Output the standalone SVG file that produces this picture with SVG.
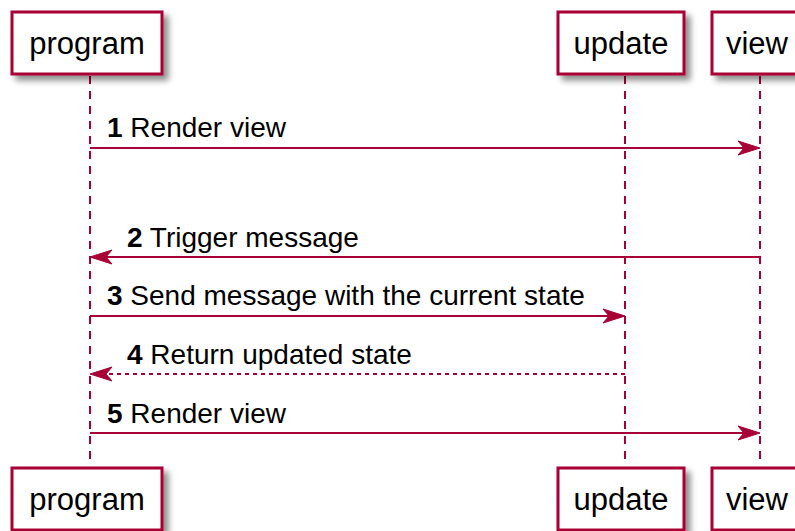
<svg xmlns="http://www.w3.org/2000/svg" width="795" height="531" viewBox="0 0 795 531">
<style>
.box{fill:#FFFFFF;stroke:#A80036;stroke-width:3;filter:url(#sh)}
.pt{font-family:"Liberation Sans",Arial,sans-serif;font-size:31px;fill:#000;text-anchor:middle}
.life{stroke:#A80036;stroke-width:2;stroke-dasharray:8,7;fill:none}
.msg{stroke:#A80036;stroke-width:2;fill:none}
.ret{stroke:#A80036;stroke-width:2;fill:none;stroke-dasharray:4,4}
.lbl{font-family:"Liberation Sans",Arial,sans-serif;font-size:28px;fill:#000}
.num{font-weight:bold}
.head{fill:#A80036;stroke:#A80036;stroke-width:1}
</style>
<defs>
<filter id="sh" x="-20%" y="-20%" width="150%" height="160%">
<feGaussianBlur in="SourceAlpha" stdDeviation="3"/>
<feOffset dx="5" dy="5" result="b"/>
<feComponentTransfer><feFuncA type="linear" slope="0.45"/></feComponentTransfer>
<feMerge><feMergeNode/><feMergeNode in="SourceGraphic"/></feMerge>
</filter>
</defs>
<rect width="795" height="531" fill="#FFFFFF"/>
<g id="lifelines">
<line class="life" x1="90" y1="76" x2="90" y2="466"/>
<line class="life" x1="625" y1="76" x2="625" y2="466"/>
<line class="life" x1="760" y1="76" x2="760" y2="466"/>
</g>
<g id="program-top"><rect class="box" x="12" y="12" width="150" height="62"/><text class="pt" x="87" y="54">program</text></g>
<g id="update-top"><rect class="box" x="558" y="12" width="126" height="62"/><text class="pt" x="621" y="54">update</text></g>
<g id="view-top"><rect class="box" x="712" y="12" width="96" height="62"/><text class="pt" x="757" y="54">view</text></g>
<g id="program-bottom"><rect class="box" x="12" y="468" width="150" height="62"/><text class="pt" x="87" y="510">program</text></g>
<g id="update-bottom"><rect class="box" x="558" y="468" width="126" height="62"/><text class="pt" x="621" y="510">update</text></g>
<g id="view-bottom"><rect class="box" x="712" y="468" width="96" height="62"/><text class="pt" x="757" y="510">view</text></g>
<g id="connectors">
<line class="msg" x1="90" y1="148" x2="756" y2="148"/>
<polygon class="head" points="760,148 738,141 744,148 738,155"/>
<line class="msg" x1="760" y1="257" x2="94" y2="257"/>
<polygon class="head" points="90,257 112,250 106,257 112,264"/>
<line class="msg" x1="90" y1="316" x2="621" y2="316"/>
<polygon class="head" points="625,316 603,309 609,316 603,323"/>
<line class="ret" x1="625" y1="374" x2="96" y2="374"/>
<polygon class="head" points="90,374 112,367 106,374 112,381"/>
<line class="msg" x1="90" y1="433" x2="756" y2="433"/>
<polygon class="head" points="760,433 738,426 744,433 738,440"/>
</g>
<g id="labels">
<text class="lbl" x="107" y="137"><tspan class="num">1</tspan> Render view</text>
<text class="lbl" x="127" y="247"><tspan class="num">2</tspan> Trigger message</text>
<text class="lbl" x="107" y="305"><tspan class="num">3</tspan> Send message with the current state</text>
<text class="lbl" x="127" y="364"><tspan class="num">4</tspan> Return updated state</text>
<text class="lbl" x="107" y="423"><tspan class="num">5</tspan> Render view</text>
</g>
</svg>
